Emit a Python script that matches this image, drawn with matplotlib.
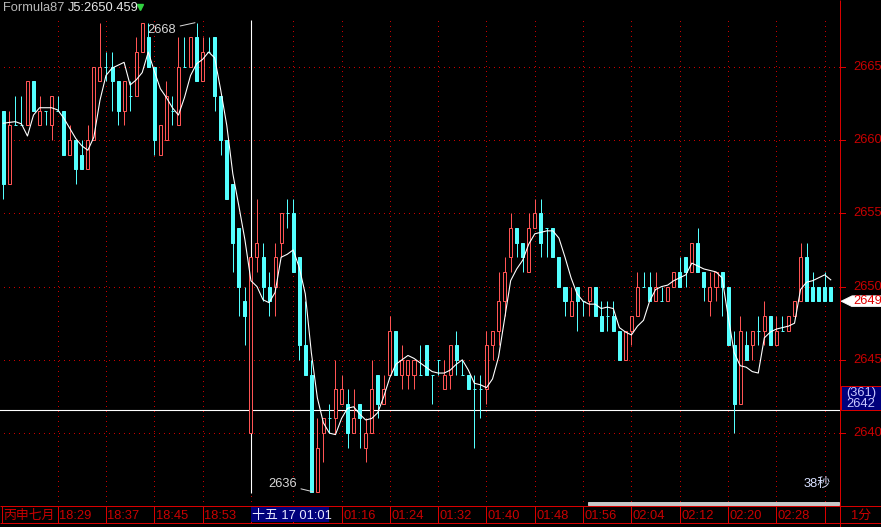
import numpy as np
import matplotlib
matplotlib.use("Agg")
import matplotlib.pyplot as plt
import matplotlib.transforms as mtransforms
from matplotlib.patches import Rectangle, Polygon

plt.rcParams['font.family'] = ['Liberation Sans', 'Noto Sans CJK SC', 'DejaVu Sans']

# ---------------- data (1-minute candles) ----------------
opens = [2662, 2657, 2661, 2661, 2661, 2664, 2661, 2662, 2661, 2662,
         2662, 2659, 2660, 2659, 2658, 2660, 2664, 2665, 2665, 2664,
         2662, 2663, 2663, 2666, 2667, 2665, 2659, 2660, 2662, 2661,
         2665, 2665, 2667, 2664, 2666, 2667, 2663, 2660, 2657, 2654,
         2649, 2640, 2652, 2652, 2650, 2650, 2653, 2655, 2655, 2652,
         2646, 2644, 2636, 2640, 2641, 2641, 2642, 2642, 2640, 2642,
         2639, 2640, 2644, 2642, 2644, 2647, 2644, 2644, 2644, 2644,
         2646, 2644, 2645, 2643, 2644, 2646, 2644, 2644, 2643, 2643,
         2643, 2646, 2647, 2649, 2652, 2654, 2653, 2651, 2654, 2655,
         2654, 2654, 2652, 2650, 2648, 2650, 2649, 2649, 2650, 2648,
         2648, 2648, 2647, 2645, 2647, 2648, 2650, 2650, 2649, 2649,
         2649, 2650, 2651, 2652, 2651, 2653, 2651, 2649, 2650, 2651,
         2650, 2646, 2642, 2646, 2646, 2647, 2647, 2648, 2646, 2647,
         2647, 2648, 2649, 2652, 2650, 2650, 2650, 2650]
highs = [2662, 2662, 2663, 2663, 2664, 2664, 2663, 2662, 2663, 2663,
         2662, 2661, 2660, 2660, 2661, 2665, 2668, 2666, 2666, 2664,
         2664, 2664, 2667, 2668, 2668, 2665, 2661, 2664, 2663, 2667,
         2667, 2667, 2668, 2667, 2667, 2667, 2663, 2660, 2657, 2654,
         2650, 2652, 2656, 2653, 2651, 2653, 2655, 2656, 2656, 2652,
         2649, 2645, 2641, 2641, 2642, 2645, 2644, 2643, 2643, 2642,
         2641, 2645, 2644, 2644, 2648, 2647, 2646, 2645, 2645, 2646,
         2646, 2644, 2645, 2645, 2646, 2647, 2645, 2644, 2644, 2644,
         2647, 2647, 2651, 2652, 2655, 2654, 2653, 2655, 2656, 2656,
         2654, 2654, 2652, 2650, 2650, 2650, 2649, 2650, 2650, 2649,
         2649, 2649, 2647, 2647, 2648, 2651, 2651, 2651, 2651, 2650,
         2650, 2651, 2652, 2652, 2653, 2654, 2651, 2651, 2651, 2651,
         2650, 2647, 2648, 2647, 2647, 2648, 2649, 2648, 2648, 2648,
         2648, 2649, 2653, 2653, 2651, 2650, 2651, 2650]
lows = [2656, 2657, 2661, 2661, 2661, 2662, 2661, 2661, 2660, 2662,
        2659, 2659, 2657, 2658, 2658, 2660, 2664, 2664, 2662, 2661,
        2661, 2662, 2663, 2666, 2665, 2659, 2659, 2660, 2661, 2661,
        2665, 2665, 2664, 2664, 2666, 2662, 2659, 2656, 2651, 2648,
        2646, 2640, 2651, 2649, 2648, 2648, 2652, 2654, 2651, 2645,
        2644, 2636, 2636, 2638, 2640, 2640, 2642, 2639, 2640, 2639,
        2638, 2640, 2641, 2642, 2644, 2644, 2643, 2643, 2643, 2644,
        2644, 2642, 2644, 2643, 2643, 2644, 2644, 2643, 2639, 2641,
        2642, 2645, 2646, 2648, 2651, 2652, 2651, 2651, 2654, 2652,
        2652, 2652, 2650, 2648, 2648, 2647, 2648, 2648, 2648, 2647,
        2647, 2647, 2645, 2645, 2646, 2648, 2650, 2649, 2649, 2649,
        2649, 2650, 2650, 2650, 2651, 2651, 2649, 2648, 2649, 2648,
        2646, 2640, 2642, 2645, 2645, 2646, 2646, 2646, 2646, 2647,
        2647, 2648, 2649, 2649, 2649, 2649, 2649, 2649]
closes = [2657, 2661, 2661, 2661, 2664, 2662, 2662, 2662, 2663, 2662,
          2659, 2660, 2658, 2658, 2660, 2665, 2665, 2665, 2664, 2662,
          2664, 2663, 2666, 2668, 2665, 2660, 2661, 2663, 2662, 2665,
          2665, 2667, 2664, 2666, 2666, 2663, 2660, 2656, 2653, 2650,
          2648, 2652, 2653, 2650, 2649, 2652, 2655, 2655, 2651, 2646,
          2644, 2636, 2639, 2641, 2641, 2643, 2643, 2640, 2641, 2641,
          2640, 2643, 2642, 2643, 2647, 2644, 2645, 2645, 2645, 2644,
          2644, 2644, 2645, 2644, 2646, 2645, 2644, 2643, 2643, 2643,
          2646, 2647, 2649, 2651, 2654, 2653, 2652, 2654, 2655, 2653,
          2654, 2652, 2650, 2649, 2649, 2649, 2649, 2650, 2648, 2647,
          2648, 2647, 2645, 2647, 2648, 2650, 2650, 2649, 2650, 2649,
          2650, 2651, 2650, 2651, 2653, 2651, 2650, 2650, 2651, 2650,
          2646, 2642, 2647, 2645, 2647, 2647, 2648, 2646, 2647, 2647,
          2648, 2649, 2652, 2649, 2649, 2649, 2649, 2649]
j5 = [2661.14, 2661.2, 2661.25, 2661.1, 2660.27, 2661.7, 2662.2, 2662.2, 2662.2, 2662.05,
      2661.5, 2660.8, 2660.1, 2659.6, 2659.3, 2660.2, 2662.7, 2664.4, 2664.9, 2665.1,
      2665.3, 2663.75, 2664.1, 2664.6, 2666.0, 2664.7, 2663.5, 2662.9, 2662.2, 2661.7,
      2662.9, 2664.4, 2665.2, 2665.5, 2666.0, 2665.6, 2663.4, 2661.0, 2657.7, 2655.5,
      2653.2, 2650.4, 2650.0, 2649.1, 2648.9, 2649.6, 2652.0, 2652.2, 2652.5, 2651.3,
      2649.5, 2645.5, 2642.4, 2640.7, 2640.0, 2639.9, 2641.0, 2641.7, 2641.8, 2641.3,
      2640.9, 2641.0, 2641.4, 2642.5, 2643.8, 2644.7, 2645.0, 2645.3, 2645.1, 2644.8,
      2644.5, 2644.2, 2644.1, 2644.1, 2644.3, 2644.7, 2645.0, 2644.3, 2643.4, 2643.3,
      2643.1, 2643.7, 2645.2, 2647.8, 2650.4, 2651.2, 2651.8, 2652.9, 2653.6, 2653.7,
      2653.8, 2653.8, 2653.3, 2652.0, 2650.6, 2649.5, 2649.0, 2648.8, 2648.8, 2648.5,
      2648.6, 2648.5, 2647.2, 2646.9, 2646.7, 2647.3, 2647.7, 2649.0, 2649.8, 2650.0,
      2650.1, 2650.4, 2650.6, 2650.8, 2651.6, 2651.4, 2651.2, 2651.1, 2651.0, 2650.6,
      2648.0, 2645.5, 2644.6, 2644.5, 2644.2, 2644.1, 2646.5, 2646.9, 2647.1, 2647.2,
      2647.3, 2647.5, 2649.8, 2650.3, 2650.4, 2650.6, 2650.8, 2650.459]

grid_prices = [2640, 2645, 2650, 2655, 2660, 2665]
grid_idx = [9, 17, 25, 33, 41, 48, 56, 64, 72, 80, 88, 96, 104, 112, 120, 128, 136]
tick_idx = [9, 17, 25, 33, 56, 64, 72, 80, 88, 96, 104, 112, 120, 128]
tick_labels = ["18:29", "18:37", "18:45", "18:53", "01:16", "01:24", "01:32",
               "01:40", "01:48", "01:56", "02:04", "02:12", "02:20", "02:28"]
cursor_idx = 41
cursor_price = 2641.56
cursor_time = "十五 17 01:01"
cursor_count = "(361)"
date_label = "丙申七月"
period_label = "1分"
timer_label = "38秒"
formula_name = "Formula87"

# ---------------- style ----------------
RED = '#ff5454'
CYAN = '#54ffff'
GRID = '#c80000'
AXRED = '#d80000'
LBL = '#c80000'
PX = 0.72  # one pixel in points at 100 dpi
FS = 9.3

W, H = 881, 527
plot_right = 840
plot_bottom = 505.7

fig = plt.figure(figsize=(W / 100, H / 100), dpi=100, facecolor='black')
ax = fig.add_axes([0, (H - plot_bottom) / H, plot_right / W, plot_bottom / H])
ax.set_facecolor('black')
for s in ax.spines.values():
    s.set_visible(False)
ax.set_xticks([])
ax.set_yticks([])
ax.set_xlim(-0.546, 138.53)
ax.set_ylim(2635.05, 2669.55)

o = np.array(opens, float)
h = np.array(highs, float)
l = np.array(lows, float)
c = np.array(closes, float)
x = np.arange(len(c))
up = c > o
dn = c < o
eq = c == o

# grid (crisp pixel dots)
ax.hlines(grid_prices, -1, 140, colors=GRID, linewidth=1.0, linestyles=(0, (0.72, 2.9)),
          zorder=1, antialiased=False)
grid_top = 2668.2
ax.vlines(grid_idx, 2635.05, grid_top, colors=GRID, linewidth=1.0, linestyles=(0, (0.72, 2.9)),
          zorder=1, antialiased=False)

# cursor crosshair
ax.vlines(cursor_idx, 2635.9, grid_top, colors='white', linewidth=1.1 * PX, zorder=1.5)
ax.axhline(cursor_price, color='white', linewidth=1.1 * PX, zorder=1.5)

# candles
bw = 0.5
ax.vlines(x[up], l[up], h[up], colors=RED, linewidth=PX, zorder=2)
ax.vlines(x[~up], l[~up], h[~up], colors=CYAN, linewidth=PX, zorder=2)
ax.bar(x[up], (c - o)[up], bottom=o[up], width=bw, facecolor='black',
       edgecolor=RED, linewidth=PX, zorder=3)
ax.bar(x[dn], (o - c)[dn], bottom=c[dn], width=bw, facecolor=CYAN,
       edgecolor=CYAN, linewidth=PX, zorder=3)
ax.hlines(c[eq], x[eq] - bw / 2, x[eq] + bw / 2, colors=CYAN, linewidth=PX, zorder=3)

# J5 line
ax.plot(x, j5, color='white', linewidth=PX * 1.1, zorder=4)

# high / low annotations
ih = int(np.where(h == h.max())[0][-1])
il = int(np.argmin(l))
ax.annotate(f"{int(h.max())}", xy=(ih - 0.26, h.max()), xytext=(ih - 3.4, h.max() - 0.5),
            ha='right', va='center', color='#d8d8d8', fontsize=FS,
            arrowprops=dict(arrowstyle='-', color='#d8d8d8', lw=PX, shrinkA=1, shrinkB=0),
            zorder=5)
ax.annotate(f"{int(l.min())}", xy=(il + 0.3, l.min()), xytext=(il - 2.4, l.min() + 0.5),
            ha='right', va='center', color='#d8d8d8', fontsize=FS,
            arrowprops=dict(arrowstyle='-', color='#d8d8d8', lw=PX, shrinkA=1, shrinkB=0),
            zorder=5)

# right price axis
tr = mtransforms.blended_transform_factory(ax.transAxes, ax.transData)
for p in grid_prices:
    ax.plot([1.0, 1 + 5 / plot_right], [p, p], color=AXRED, lw=PX, transform=tr, clip_on=False)
    ax.text(1 + 13 / plot_right, p, f"{p}", transform=tr, ha='left', va='center',
            color=LBL, fontsize=FS, clip_on=False)

# last price tag
lp = c[-1]
hh = 0.37
poly = Polygon([(1 + 1 / plot_right, lp), (1 + 12 / plot_right, lp + hh),
                (1 + 41 / plot_right, lp + hh), (1 + 41 / plot_right, lp - hh),
                (1 + 12 / plot_right, lp - hh)], closed=True, transform=tr,
               facecolor='white', edgecolor='white', lw=0.5, clip_on=False, zorder=6)
ax.add_patch(poly)
ax.text(1 + 13 / plot_right, lp, f"{int(lp)}", transform=tr, ha='left', va='center',
        color='#e00000', fontsize=FS, clip_on=False, zorder=7)

# cursor price box
bh = 24 / 14.66
box = Rectangle((1 + 1 / plot_right, cursor_price), 41 / plot_right, bh, transform=tr,
                facecolor='#00007c', edgecolor=AXRED, lw=PX, clip_on=False, zorder=6)
ax.add_patch(box)
ax.text(1 + 21 / plot_right, cursor_price + 1.21, cursor_count, transform=tr,
        ha='center', va='center', color='#c8c8ff', fontsize=FS, clip_on=False, zorder=7)
ax.text(1 + 21 / plot_right, cursor_price + 0.40, f"{round(cursor_price)}", transform=tr,
        ha='center', va='center', color='#c8c8ff', fontsize=FS, clip_on=False, zorder=7)

# ---------------- overlay in pixel coordinates ----------------
ov = fig.add_axes([0, 0, 1, 1], zorder=10)
ov.set_xlim(0, W)
ov.set_ylim(H, 0)
ov.axis('off')
ov.set_autoscale_on(False)

ov.hlines([plot_bottom, 523.3], 0, W, colors=AXRED, linewidth=PX)
ov.vlines(plot_right, 0, H, colors=AXRED, linewidth=PX)
ov.vlines(2, plot_bottom, 523.3, colors=AXRED, linewidth=PX)

tb = mtransforms.blended_transform_factory(ax.transData, ov.transData)
ov.vlines(grid_idx, plot_bottom, 523.3, colors=AXRED, linewidth=PX, transform=tb)
for k, t in zip(tick_idx, tick_labels):
    ov.text(k + 0.25, 516, t, transform=tb, ha='left', va='center', color=LBL, fontsize=FS)
ov.text(3, 516, date_label, ha='left', va='center', color=LBL, fontsize=FS)
ov.text(851, 516, period_label, ha='left', va='center', color=LBL, fontsize=FS)

# cursor time box
ov.add_patch(Rectangle((cursor_idx - 0.03, 506.5), 13.0, 15.8, transform=tb,
                       facecolor='#00007c', edgecolor='none', zorder=11))
ov.text(cursor_idx + 0.25, 515.5, cursor_time, transform=tb, ha='left', va='center',
        color='#e8e8ff', fontsize=FS, zorder=12)

# scroll bar
ov.add_patch(Rectangle((587.5, 502.2), 251.5, 2.4, facecolor='#c8c8c8',
                       edgecolor='#f0f0f0', lw=0.5, zorder=11))

# timer
ov.text(817, 484.5, timer_label, ha='center', va='center', color='#d8e0ff', fontsize=FS)

# title
ov.text(3, 8, formula_name, ha='left', va='center', color='#b8b8b8', fontsize=FS)
ov.text(68, 8, f"J5:{j5[-1]:.3f}", ha='left', va='center', color='#e8e8e8', fontsize=FS)
ov.plot([139.5], [6.5], marker='v', color='#30d040', markersize=5, linestyle='none')

fig.savefig('out.png', dpi=100, facecolor='black')
